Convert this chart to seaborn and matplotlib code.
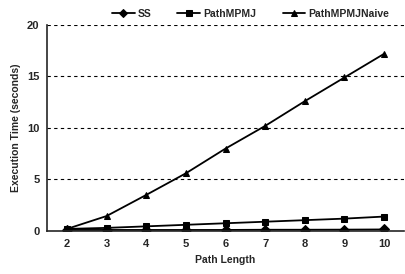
import matplotlib
matplotlib.use("Agg")
import matplotlib.pyplot as plt
import seaborn as sns
import pandas as pd
import numpy as np

path_length = [2, 3, 4, 5, 6, 7, 8, 9, 10]
ss = [0.1, 0.1, 0.1, 0.1, 0.1, 0.12, 0.12, 0.13, 0.15]
path_mpmj = [0.2, 0.3, 0.45, 0.6, 0.75, 0.9, 1.05, 1.2, 1.4]
path_mpmj_naive = [0.2, 1.45, 3.5, 5.6, 8.0, 10.2, 12.6, 14.9, 17.2]
series_names = ["SS", "PathMPMJ", "PathMPMJNaive"]
y_ticks = [0, 5, 10, 15, 20]

sns.set_style("white")
plt.rcParams['font.family'] = ['Liberation Sans', 'DejaVu Sans']
plt.rcParams['font.weight'] = 'bold'

df = pd.DataFrame({
    "Path Length": path_length * 3,
    "Time": ss + path_mpmj + path_mpmj_naive,
    "Series": [series_names[0]] * 9 + [series_names[1]] * 9 + [series_names[2]] * 9,
})

fig = plt.figure(figsize=(4.06, 2.74), dpi=100)
ax = fig.add_axes([0.116, 0.157, 0.879, 0.752])

sns.lineplot(data=df, x="Path Length", y="Time", hue="Series", style="Series",
             markers={"SS": "D", "PathMPMJ": "s", "PathMPMJNaive": "^"},
             dashes=False, palette=["black"] * 3, markersize=5, linewidth=1.3,
             markeredgecolor="black", ax=ax, legend=True)

ax.set_xlim(1.5, 10.5)
ax.set_ylim(0, 20)
ax.set_xticks(path_length)
ax.set_xticks(np.arange(1.5, 10.6, 1.0), minor=True)
ax.set_yticks(y_ticks)
ax.tick_params(axis='x', which='major', labelsize=8, length=0, pad=6)
ax.tick_params(axis='x', which='minor', length=3, width=1, direction='out')
ax.tick_params(axis='y', labelsize=8, length=4, width=1, direction='inout')
for lab in ax.get_xticklabels() + ax.get_yticklabels():
    lab.set_fontweight('bold')
for v in y_ticks[1:]:
    ax.axhline(v, color='black', linestyle=(0, (3, 3)), linewidth=0.8, zorder=0)
ax.spines['top'].set_visible(False)
ax.spines['right'].set_visible(False)
ax.spines['left'].set_linewidth(1.2)
ax.spines['bottom'].set_linewidth(1.2)
ax.set_xlabel("Path Length", fontsize=7.5, fontweight='bold')
ax.set_ylabel("Execution Time (seconds)", fontsize=7.5, fontweight='bold')

handles, labels = ax.get_legend_handles_labels()
for h in handles:
    h.set_markersize(4)
ax.legend(handles, labels, loc='lower center', bbox_to_anchor=(0.57, 1.0), ncol=3,
          frameon=False, handlelength=2.2, columnspacing=2.5,
          handletextpad=0.3, borderaxespad=0.2, prop={'weight': 'bold', 'size': 7.5})

fig.savefig("out.png", dpi=100)
